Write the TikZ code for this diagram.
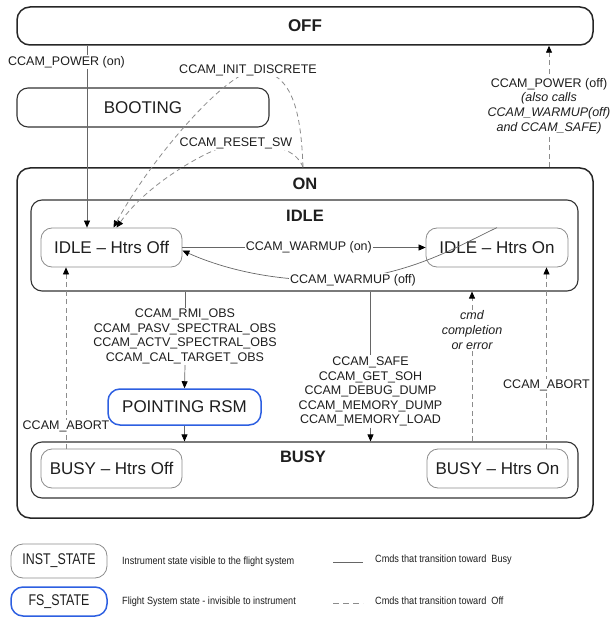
\documentclass[tikz,border=0pt]{standalone}
\usepackage{fontspec}
\usepackage{graphicx}
\setmainfont{Liberation Sans}
\usetikzlibrary{arrows.meta,calc}
\definecolor{fsblue}{RGB}{45,95,225}
\definecolor{txt}{RGB}{30,30,30}
\begin{document}
\begin{tikzpicture}[x=1pt,y=-1pt,
  every node/.style={text=txt},
  big/.style={draw=black!85, line width=1.5pt, rounded corners=13pt, inner sep=0pt},
  group/.style={draw=black!80, line width=1.1pt, rounded corners=11pt, inner sep=0pt},
  inst/.style={draw=black!45, line width=0.8pt, rounded corners=11pt, inner sep=0pt, font=\fontsize{17}{20}\selectfont},
  fsst/.style={draw=fsblue, line width=1.5pt, rounded corners=12pt, inner sep=0pt, font=\fontsize{17}{20}\selectfont},
  title/.style={font=\bfseries\fontsize{16.5}{20}\selectfont, inner sep=0pt},
  lbl/.style={font=\fontsize{12.5}{14.6}\selectfont, align=center, inner sep=1pt, fill=white},
  ilbl/.style={lbl, font=\itshape\fontsize{12.5}{14.6}\selectfont},
  legtxt/.style={font=\fontsize{10.5}{12}\selectfont, inner sep=0pt, anchor=west},
  tobusy/.style={draw=black!60, line width=0.7pt},
  tooff/.style={draw=black!45, line width=0.8pt, dash pattern=on 5pt off 3.5pt},
  tip/.style={-{Triangle[length=7pt,width=6pt,color=black]}},
]
\useasboundingbox (0,0) rectangle (614,617);

% ---- states ----
\node[big, minimum width=576pt, minimum height=38pt, font=\bfseries\fontsize{17}{20}\selectfont] (off) at (305,26) {OFF};
\node[group, minimum width=252pt, minimum height=39pt, font=\fontsize{17}{20}\selectfont] (boot) at (143,107.5) {BOOTING};
\node[big, minimum width=576pt, minimum height=350pt] (on) at (305,343) {};
\node[title] (ontitle) at (305,184) {ON};
\node[group, minimum width=547pt, minimum height=91pt] (idle) at (304.5,245.5) {};
\node[title] (idletitle) at (305,216) {IDLE};
\node[inst, minimum width=141pt, minimum height=39pt] (idleoff) at (111.5,247.5) {IDLE – Htrs Off};
\node[inst, minimum width=142pt, minimum height=39pt] (idleon) at (497,247.5) {IDLE – Htrs On};
\node[fsst, minimum width=153pt, minimum height=36pt] (point) at (184.5,407) {POINTING RSM};
\node[group, minimum width=547pt, minimum height=56pt] (busy) at (304.5,470) {};
\node[title] (busytitle) at (303,457) {BUSY};
\node[inst, minimum width=141pt, minimum height=39pt] (busyoff) at (111.5,468.5) {BUSY – Htrs Off};
\node[inst, minimum width=141pt, minimum height=39pt] (busyon) at (497.5,468.5) {BUSY – Htrs On};

% ---- transitions ----
\coordinate (pwr) at ([xshift=-24.5pt]idleoff.north);
\draw[tobusy,tip] (off.south -| pwr) -- (pwr);
\node[lbl, anchor=west] (pwrlbl) at (7,62) {CCAM\_POWER (on)};

\draw[tooff,tip] ([xshift=-2pt]on.north) .. controls (301,110) and (292,74) .. (258,70) .. controls (228,68) and (150,160) .. ([xshift=2pt]idleoff.north);
\node[lbl] (initlbl) at (248,70) {CCAM\_INIT\_DISCRETE};

\draw[tooff,tip] ([xshift=-2pt]on.north) .. controls (297,152) and (280,143) .. (236,143) .. controls (215,146) and (150,180) .. ([xshift=5pt]idleoff.north);
\node[lbl] (resetlbl) at (236,143) {CCAM\_RESET\_SW};

\draw[tobusy,tip] (idleoff.east) -- node[lbl,pos=0.52] (wonlbl) {CCAM\_WARMUP (on)} (idleon.west);

\draw[tobusy,tip] (idleon.north) .. controls (460,245) and (420,270) .. (353,279) .. controls (290,284) and (230,272) .. ([yshift=-3pt]idleoff.east);
\node[lbl] (wofflbl) at (353,280) {CCAM\_WARMUP (off)};

\node[lbl] (rmi) at (185,336.5) {CCAM\_RMI\_OBS\\CCAM\_PASV\_SPECTRAL\_OBS\\CCAM\_ACTV\_SPECTRAL\_OBS\\CCAM\_CAL\_TARGET\_OBS};
\draw[tobusy] (idle.south -| rmi.north) -- (rmi.north);
\draw[tobusy,tip] (rmi.south) -- (point.north);
\draw[tobusy,tip] (point.south) -- (busy.north -| point.south);

\node[lbl] (safe) at (370.5,391.5) {CCAM\_SAFE\\CCAM\_GET\_SOH\\CCAM\_DEBUG\_DUMP\\CCAM\_MEMORY\_DUMP\\CCAM\_MEMORY\_LOAD};
\draw[tobusy] (idle.south -| safe.north) -- (safe.north);
\draw[tobusy,tip] (safe.south) -- (busy.north -| safe.south);

\node[ilbl] (cmd) at (472,330) {cmd\\completion\\or error};
\draw[tooff] (busy.north -| cmd.south) -- (cmd.south);
\draw[tooff,tip] (cmd.north) -- (idle.south -| cmd.north);

\coordinate (abR) at ([xshift=49pt]busyon.north);
\draw[tooff,tip] (abR) -- node[lbl,pos=0.35] (abRlbl) {CCAM\_ABORT} (idleon.south -| abR);

\coordinate (abL) at ([xshift=-45.5pt]busyoff.north);
\draw[tooff,tip] (abL) -- node[lbl,pos=0.12] (abLlbl) {CCAM\_ABORT} (idleoff.south -| abL);

\coordinate (pofT) at ([xshift=244pt]on.north);
\draw[tooff,tip] (pofT) -- (off.south -| pofT);
\node[lbl] (pofl) at (549,106) {CCAM\_POWER (off)\\\textit{(also calls}\\\textit{CCAM\_WARMUP(off)}\\\textit{and CCAM\_SAFE)}};

% ---- legend ----
\node[inst, minimum width=96pt, minimum height=34pt, rounded corners=12pt, font=\fontsize{15.5}{18}\selectfont] (leginst) at (59,561) {\scalebox{0.8}[1]{INST\_STATE}};
\node[fsst, minimum width=96pt, minimum height=29pt, font=\fontsize{15.5}{18}\selectfont] (legfs) at (59,601.5) {\scalebox{0.8}[1]{FS\_STATE}};
\node[legtxt] (legt1) at (122,561.5) {\scalebox{0.87}[1]{Instrument state visible to the flight system}};
\node[legtxt] (legt2) at (122,601.5) {\scalebox{0.87}[1]{Flight System state - invisible to instrument}};
\coordinate (ls1) at (333,562);
\coordinate (ls2) at (363,562);
\draw[tobusy] (ls1) -- (ls2);
\coordinate (ld1) at (333,603);
\coordinate (ld2) at (363,603);
\draw[tooff, dash pattern=on 6pt off 4pt] (ld1) -- (ld2);
\node[legtxt] (legt3) at (375,560) {\scalebox{0.87}[1]{Cmds that transition toward\ \ Busy}};
\node[legtxt] (legt4) at (375,600.5) {\scalebox{0.87}[1]{Cmds that transition toward\ \ Off}};
\end{tikzpicture}
\end{document}
